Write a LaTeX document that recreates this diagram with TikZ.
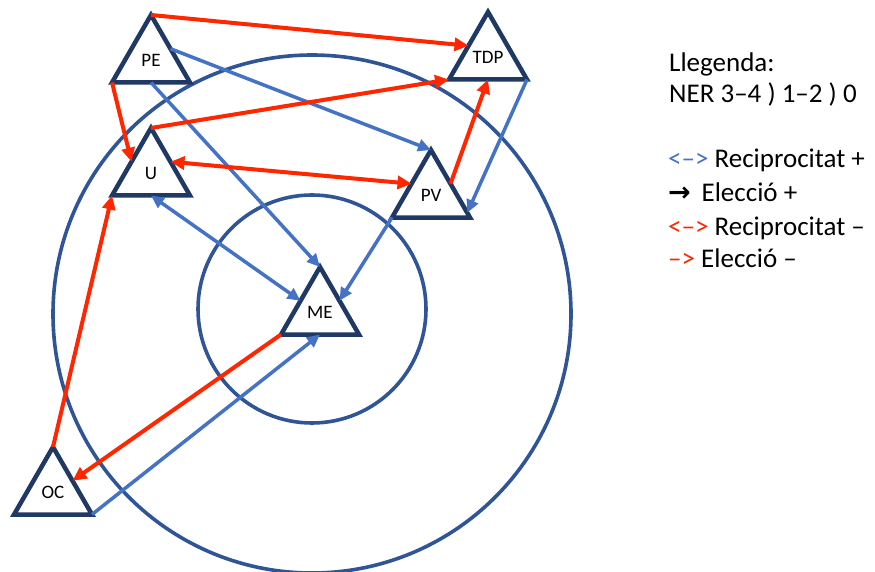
\documentclass[tikz,border=0pt]{standalone}
\usepackage{fontspec}
\setmainfont{Carlito}
\newfontfamily\symfont{DejaVu Sans}
\usetikzlibrary{shapes.geometric,arrows.meta,calc}
\definecolor{navy}{HTML}{203864}
\definecolor{ringblue}{HTML}{2F5597}
\definecolor{arrowblue}{HTML}{4472C4}
\definecolor{arrowred}{HTML}{FF2600}
\begin{document}
\begin{tikzpicture}[x=1pt,y=-1pt,
  tri/.style={regular polygon, regular polygon sides=3, minimum size=90pt,
    inner sep=0pt, outer sep=0pt, draw=navy, line width=4.5pt, fill=white,
    font=\fontsize{19}{22}\selectfont},
  ringline/.style={draw=ringblue, line width=3.6pt},
  bluehead/.tip={Triangle[length=13pt,width=12pt]},
  redhead/.tip={Triangle[length=14pt,width=13pt]},
  posarrow/.style={draw=arrowblue, line width=3.5pt, -bluehead},
  posboth/.style={draw=arrowblue, line width=3.5pt, bluehead-bluehead},
  negarrow/.style={draw=arrowred, line width=4pt, -redhead},
  negboth/.style={draw=arrowred, line width=4pt, redhead-redhead},
  legendtext/.style={anchor=base west, inner sep=0pt, font=\fontsize{27}{30}\selectfont}]
\useasboundingbox (0,0) rectangle (875,572);
% rings
\draw[ringline] (312,314) circle[radius=259pt];
\draw[ringline] (312,309) circle[radius=114pt];
% triangles
\node[tri] (PE)  at (151,60)  {PE};
\node[tri] (TDP) at (488,57)  {TDP};
\node[tri] (U)   at (151,173) {U};
\node[tri] (PV)  at (431,195) {PV};
\node[tri] (ME)  at (320,312) {ME};
\node[tri] (OC)  at (53,492)  {OC};
% blue connectors
\draw[posarrow] (PE.side 3) -- (PV.corner 1);
\draw[posarrow] (PE.side 2) -- (ME.corner 1);
\draw[posboth] (U.side 2) -- (ME.side 1);
\draw[posarrow] (TDP.corner 3) -- ($(PV.corner 1)!0.93!(PV.corner 3)$);
\draw[posarrow] (PV.corner 2) -- (ME.side 3);
\draw[posarrow] (OC.corner 3) -- (ME.side 2);
% red connectors
\draw[negarrow] (PE.corner 1) -- (TDP.side 1);
\draw[negarrow] (PE.corner 2) -- (U.side 1);
\draw[negarrow] (U.corner 1) -- (TDP.corner 2);
\draw[negboth] (U.side 3) -- (PV.side 1);
\draw[negarrow] (PV.side 3) -- (TDP.side 2);
\draw[negarrow] (OC.corner 1) -- (U.corner 2);
\draw[negarrow] (ME.corner 2) -- (OC.side 3);
% legend
\node[legendtext] (lg1) at (669,72) {Llegenda:};
\node[legendtext] (lg2) at (669,103) {NER 3–4 ) 1–2 ) 0};
\node[legendtext] (lg3) at (668,168) {{\color{arrowblue}<–>} Reciprocitat +};
\node[legendtext] (lg4) at (668,202) {{\symfont\bfseries →}\hspace{0.4em}Elecció +};
\node[legendtext] (lg5) at (668,235) {{\color{arrowred}<–>} Reciprocitat –};
\node[legendtext] (lg6) at (668,267) {{\color{arrowred}–>} Elecció –};
\end{tikzpicture}
\end{document}
